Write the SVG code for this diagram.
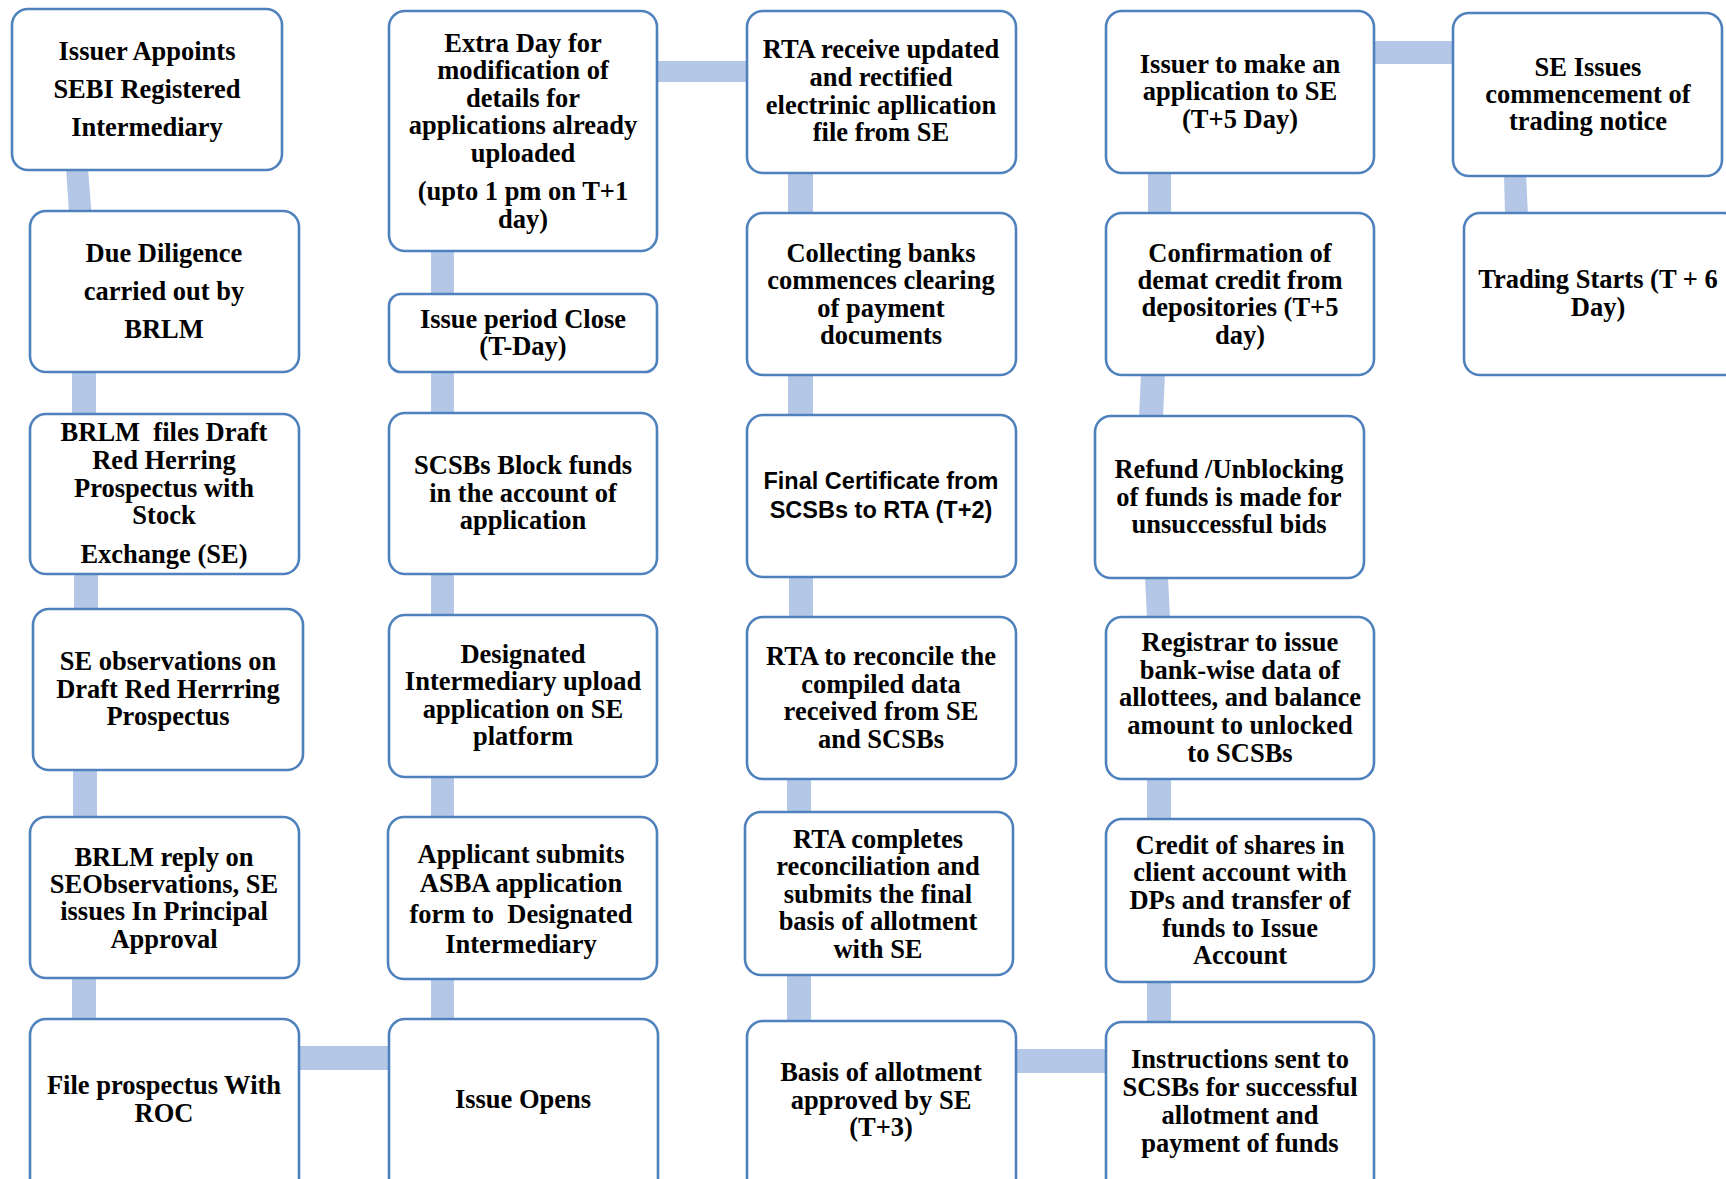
<svg xmlns="http://www.w3.org/2000/svg" width="1726" height="1179" viewBox="0 0 1726 1179">
<style>
.bg{fill:#ffffff}
.box{fill:#ffffff;stroke:#4F81BD;stroke-width:2.6}
.c{fill:#B4C7E7}
.t{font-family:"Liberation Serif","Times New Roman",serif;font-weight:bold;font-size:26.5px;fill:#000000;text-anchor:middle}
.s{font-family:"Liberation Sans",Arial,sans-serif;font-weight:bold;font-size:23.5px;fill:#000000;text-anchor:middle}
</style>
<rect class="bg" x="0" y="0" width="1726" height="1179"/>
<g id="connectors">
<polygon class="c" points="66,168 88,168 91.5,213 69,213"/>
<rect class="c" x="72" y="370" width="24" height="46"/>
<rect class="c" x="74" y="572" width="24" height="39"/>
<rect class="c" x="73" y="768" width="24" height="51"/>
<rect class="c" x="72" y="976" width="24" height="45"/>
<rect class="c" x="297" y="1046" width="94" height="24"/>
<rect class="c" x="431" y="249" width="23" height="47"/>
<rect class="c" x="431" y="370" width="23" height="45"/>
<rect class="c" x="431" y="572" width="23" height="45"/>
<rect class="c" x="431" y="775" width="23" height="44"/>
<rect class="c" x="431" y="977" width="23" height="44"/>
<rect class="c" x="655" y="61" width="94" height="21"/>
<rect class="c" x="788" y="171" width="25" height="44"/>
<rect class="c" x="788" y="373" width="25" height="44"/>
<rect class="c" x="789" y="575" width="24" height="44"/>
<rect class="c" x="787" y="777" width="24" height="37"/>
<rect class="c" x="787" y="973" width="24" height="50"/>
<rect class="c" x="1014" y="1049" width="94" height="24"/>
<rect class="c" x="1148" y="171" width="23" height="44"/>
<polygon class="c" points="1141,373 1165,373 1163,418 1139,418"/>
<polygon class="c" points="1145,576 1168,576 1170,619 1147,619"/>
<rect class="c" x="1147" y="777" width="24" height="44"/>
<rect class="c" x="1147" y="980" width="24" height="44"/>
<rect class="c" x="1372" y="41" width="83" height="23"/>
<polygon class="c" points="1504,174 1526,174 1528,215 1505,215"/>
</g>
<g id="n1"><rect class="box" x="12" y="9" width="270" height="161" rx="16"/>
<text class="t"><tspan x="147" y="60">Issuer Appoints</tspan><tspan x="147" y="98">SEBI Registered</tspan><tspan x="147" y="136">Intermediary</tspan></text></g>
<g id="n2"><rect class="box" x="30" y="211" width="269" height="161" rx="16"/>
<text class="t"><tspan x="164" y="262">Due Diligence</tspan><tspan x="164" y="300">carried out by</tspan><tspan x="164" y="338">BRLM</tspan></text></g>
<g id="n3"><rect class="box" x="30" y="414" width="269" height="160" rx="16"/>
<text class="t" xml:space="preserve"><tspan x="164" y="441">BRLM  files Draft</tspan><tspan x="164" y="469">Red Herring</tspan><tspan x="164" y="497">Prospectus with</tspan><tspan x="164" y="524">Stock</tspan><tspan x="164" y="563">Exchange (SE)</tspan></text></g>
<g id="n4"><rect class="box" x="33" y="609" width="270" height="161" rx="16"/>
<text class="t"><tspan x="168" y="670">SE observations on</tspan><tspan x="168" y="698">Draft Red Herrring</tspan><tspan x="168" y="725">Prospectus</tspan></text></g>
<g id="n5"><rect class="box" x="30" y="817" width="269" height="161" rx="16"/>
<text class="t"><tspan x="164" y="866">BRLM reply on</tspan><tspan x="164" y="893">SEObservations, SE</tspan><tspan x="164" y="920">issues In Principal</tspan><tspan x="164" y="948">Approval</tspan></text></g>
<g id="n6"><rect class="box" x="30" y="1019" width="269" height="200" rx="16"/>
<text class="t"><tspan x="164" y="1094">File prospectus With</tspan><tspan x="164" y="1122">ROC</tspan></text></g>
<g id="n7"><rect class="box" x="389" y="11" width="268" height="240" rx="16"/>
<text class="t"><tspan x="523" y="52">Extra Day for</tspan><tspan x="523" y="79">modification of</tspan><tspan x="523" y="107">details for</tspan><tspan x="523" y="134">applications already</tspan><tspan x="523" y="162">uploaded</tspan><tspan x="523" y="200">(upto 1 pm on T+1</tspan><tspan x="523" y="228">day)</tspan></text></g>
<g id="n8"><rect class="box" x="389" y="294" width="268" height="78" rx="12"/>
<text class="t"><tspan x="523" y="328">Issue period Close</tspan><tspan x="523" y="355">(T-Day)</tspan></text></g>
<g id="n9"><rect class="box" x="389" y="413" width="268" height="161" rx="16"/>
<text class="t"><tspan x="523" y="474">SCSBs Block funds</tspan><tspan x="523" y="502">in the account of</tspan><tspan x="523" y="529">application</tspan></text></g>
<g id="n10"><rect class="box" x="389" y="615" width="268" height="162" rx="16"/>
<text class="t"><tspan x="523" y="663">Designated</tspan><tspan x="523" y="690">Intermediary upload</tspan><tspan x="523" y="718">application on SE</tspan><tspan x="523" y="745">platform</tspan></text></g>
<g id="n11"><rect class="box" x="388" y="817" width="269" height="162" rx="16"/>
<text class="t" xml:space="preserve"><tspan x="521" y="863">Applicant submits</tspan><tspan x="521" y="892">ASBA application</tspan><tspan x="521" y="923">form to  Designated</tspan><tspan x="521" y="953">Intermediary</tspan></text></g>
<g id="n12"><rect class="box" x="389" y="1019" width="269" height="200" rx="16"/>
<text class="t"><tspan x="523" y="1108">Issue Opens</tspan></text></g>
<g id="n13"><rect class="box" x="747" y="11" width="269" height="162" rx="16"/>
<text class="t"><tspan x="881" y="58">RTA receive updated</tspan><tspan x="881" y="86">and rectified</tspan><tspan x="881" y="114">electrinic apllication</tspan><tspan x="881" y="141">file from SE</tspan></text></g>
<g id="n14"><rect class="box" x="747" y="213" width="269" height="162" rx="16"/>
<text class="t"><tspan x="881" y="262">Collecting banks</tspan><tspan x="881" y="289">commences clearing</tspan><tspan x="881" y="317">of payment</tspan><tspan x="881" y="344">documents</tspan></text></g>
<g id="n15"><rect class="box" x="747" y="415" width="269" height="162" rx="16"/>
<text class="s"><tspan x="881" y="489">Final Certificate from</tspan><tspan x="881" y="518">SCSBs to RTA (T+2)</tspan></text></g>
<g id="n16"><rect class="box" x="747" y="617" width="269" height="162" rx="16"/>
<text class="t"><tspan x="881" y="665">RTA to reconcile the</tspan><tspan x="881" y="693">compiled data</tspan><tspan x="881" y="720">received from SE</tspan><tspan x="881" y="748">and SCSBs</tspan></text></g>
<g id="n17"><rect class="box" x="745" y="812" width="268" height="163" rx="16"/>
<text class="t"><tspan x="878" y="848">RTA completes</tspan><tspan x="878" y="875">reconciliation and</tspan><tspan x="878" y="903">submits the final</tspan><tspan x="878" y="930">basis of allotment</tspan><tspan x="878" y="958">with SE</tspan></text></g>
<g id="n18"><rect class="box" x="747" y="1021" width="269" height="200" rx="16"/>
<text class="t"><tspan x="881" y="1081">Basis of allotment</tspan><tspan x="881" y="1109">approved by SE</tspan><tspan x="881" y="1136">(T+3)</tspan></text></g>
<g id="n19"><rect class="box" x="1106" y="11" width="268" height="162" rx="16"/>
<text class="t"><tspan x="1240" y="73">Issuer to make an</tspan><tspan x="1240" y="100">application to SE</tspan><tspan x="1240" y="128">(T+5 Day)</tspan></text></g>
<g id="n20"><rect class="box" x="1106" y="213" width="268" height="162" rx="16"/>
<text class="t"><tspan x="1240" y="262">Confirmation of</tspan><tspan x="1240" y="289">demat credit from</tspan><tspan x="1240" y="316">depositories (T+5</tspan><tspan x="1240" y="344">day)</tspan></text></g>
<g id="n21"><rect class="box" x="1095" y="416" width="269" height="162" rx="16"/>
<text class="t"><tspan x="1229" y="478">Refund /Unblocking</tspan><tspan x="1229" y="506">of funds is made for</tspan><tspan x="1229" y="533">unsuccessful bids</tspan></text></g>
<g id="n22"><rect class="box" x="1106" y="617" width="268" height="162" rx="16"/>
<text class="t"><tspan x="1240" y="651">Registrar to issue</tspan><tspan x="1240" y="679">bank-wise data of</tspan><tspan x="1240" y="706">allottees, and balance</tspan><tspan x="1240" y="734">amount to unlocked</tspan><tspan x="1240" y="762">to SCSBs</tspan></text></g>
<g id="n23"><rect class="box" x="1106" y="819" width="268" height="163" rx="16"/>
<text class="t"><tspan x="1240" y="854">Credit of shares in</tspan><tspan x="1240" y="881">client account with</tspan><tspan x="1240" y="909">DPs and transfer of</tspan><tspan x="1240" y="937">funds to Issue</tspan><tspan x="1240" y="964">Account</tspan></text></g>
<g id="n24"><rect class="box" x="1106" y="1022" width="268" height="200" rx="16"/>
<text class="t"><tspan x="1240" y="1068">Instructions sent to</tspan><tspan x="1240" y="1096">SCSBs for successful</tspan><tspan x="1240" y="1124">allotment and</tspan><tspan x="1240" y="1152">payment of funds</tspan></text></g>
<g id="n25"><rect class="box" x="1453" y="13" width="269" height="163" rx="16"/>
<text class="t"><tspan x="1588" y="76">SE Issues</tspan><tspan x="1588" y="103">commencement of</tspan><tspan x="1588" y="130">trading notice</tspan></text></g>
<g id="n26"><rect class="box" x="1464" y="213" width="276" height="162" rx="16"/>
<text class="t"><tspan x="1598" y="288">Trading Starts (T + 6</tspan><tspan x="1598" y="316">Day)</tspan></text></g>
</svg>
